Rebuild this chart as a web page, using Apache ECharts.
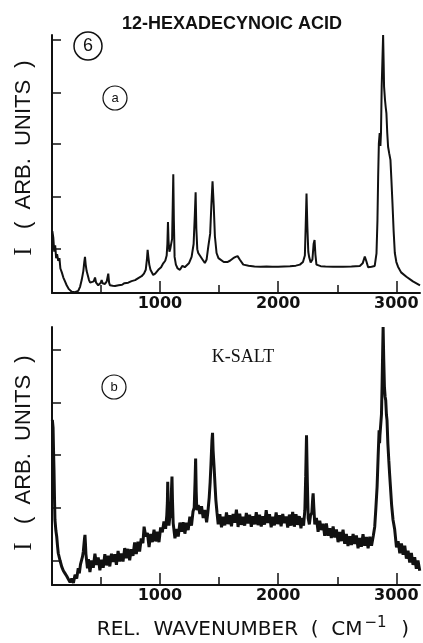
<!DOCTYPE html>
<html>
<head>
<meta charset="utf-8">
<script src="https://cdn.jsdelivr.net/npm/echarts@6/dist/echarts.min.js"></script>
<style>
  html, body { margin: 0; padding: 0; background: #fff; }
  #chart { width: 423px; height: 643px; }
</style>
</head>
<body>
<div id="chart"></div>
<script>
// wavenumber (cm-1), intensity (arb. units, 0-100 of panel height)
var spectrumA = [
  [90,24],[98,21.5],[106,16],[114,18.5],[122,13.5],[130,15],[140,12.5],[150,13.5],[158,9.5],[170,8],
  [183,6],[197,4.5],[211,3],[230,1.5],[254,0.5],[280,0.3],[309,0.8],[325,2.5],[338,5],[352,8.5],
  [360,12],[366,14],[372,11],[380,8.5],[389,7],[400,5],[410,4],[423,3.8],[440,4.5],[451,6],
  [460,4],[470,3.5],[478,3],[490,3.5],[500,4],[507,5],[515,3.8],[525,4],[535,3.5],[550,4.5],
  [563,7.5],[570,4],[577,3],[600,2.8],[620,2.7],[650,3],[680,3.2],[700,3.8],[732,4],[760,4.6],
  [790,5],[817,5.8],[845,6.5],[865,7.5],[880,9],[890,13],[896,16.7],[902,14],[910,11],[920,9],
  [943,7],[960,7.5],[986,9],[1010,10],[1028,11.5],[1045,12.5],[1057,14.5],[1063,19],[1068,27.5],[1073,20],
  [1080,16],[1087,17],[1095,17],[1103,21],[1108,33],[1113,46],[1118,28],[1124,14],[1135,11],[1150,9.5],
  [1169,9],[1190,10.5],[1210,10],[1225,10.3],[1245,11.5],[1268,14],[1285,19],[1295,30],[1302,39],[1308,25],
  [1316,17],[1324,15.5],[1340,15],[1360,13],[1380,11.6],[1395,13],[1409,18],[1425,23],[1435,34],[1445,43.3],
  [1455,34],[1465,22],[1479,15.5],[1495,13.5],[1507,12.9],[1540,12],[1570,12],[1592,12.5],[1620,13.5],[1640,14],
  [1657,14.3],[1675,13],[1705,11],[1750,10.6],[1800,10.3],[1850,10.2],[1902,10.3],[1950,10.2],[2000,10.2],[2050,10.3],
  [2100,10.4],[2150,10.6],[2184,11],[2210,12],[2226,14.5],[2233,26],[2240,38.6],[2247,26],[2255,16],[2262,14],
  [2275,11.8],[2290,13],[2300,19],[2308,20.5],[2315,15],[2324,11],[2360,10.4],[2400,10.3],[2465,10.2],[2550,10.2],
  [2620,10.3],[2691,10.5],[2715,11.5],[2733,14.1],[2745,12.5],[2761,10],[2790,10.2],[2817,10.5],[2832,15.4],[2840,28],
  [2846,45],[2852,58],[2859,62],[2865,57],[2870,62],[2876,80],[2882,90],[2888,100],[2893,88],[2896,80],
  [2904,74.8],[2910,72],[2916,69.6],[2923,62],[2930,56.7],[2940,54],[2950,51.6],[2958,44],[2967,34.9],[2977,24],
  [2987,15.5],[3000,12],[3014,10.2],[3040,8],[3085,6.3],[3140,4.5],[3200,3]
];

var spectrumB = [
  [90,64],[96,61],[100,52],[104,44.5],[108,34],[112,25.2],[120,21],[127,18.7],[134,15],[140,12.3],
  [155,9.5],[169,7.1],[183,5.5],[197,4.5],[211,3.5],[225,3.8],[240,1],[254,2.5],[268,0.8],[282,4],
  [296,2.5],[309,6.5],[318,4.5],[328,8],[338,7.5],[345,11],[352,13],[358,16],[362,18],[366,19.4],
  [370,16],[374,12],[380,9.5],[387,6.5],[395,10],[408,5],[422,9.5],[436,6.7],[450,12.1],[464,7.8],
  [478,10.7],[492,5.7],[506,9.8],[520,6.7],[534,11.9],[548,7.6],[562,11.3],[576,7.2],[590,12.1],[604,8.9],
  [618,11.9],[632,7.8],[646,13.2],[660,9.1],[674,12.2],[688,9.1],[702,14.3],[716,10.4],[730,14],[744,9.6],
  [758,13.9],[772,11.3],[786,16.5],[800,12],[814,16.8],[828,13],[842,18],[856,16.2],[866,22.6],[873,23],
  [880,18.8],[894,20.2],[908,14.7],[922,19.8],[936,16.6],[950,21.4],[964,16.9],[978,20.6],[992,16.6],[1006,22.3],
  [1020,20.4],[1034,24.6],[1048,21.8],[1058,27],[1063,32],[1066,40],[1070,30],[1076,23],[1083,26],[1092,27],
  [1097,36],[1102,42],[1106,33],[1112,24],[1118,23.4],[1127,18.1],[1141,21.7],[1155,18.8],[1169,24.2],[1183,20.6],
  [1197,24.3],[1211,19.9],[1225,24.1],[1239,21.3],[1253,26.5],[1267,23],[1280,28.5],[1290,30],[1297,40],[1302,49],
  [1307,36],[1312,29],[1324,31],[1338,27.5],[1352,30.5],[1366,26],[1380,29.1],[1395,24.3],[1405,28],[1417,34],
  [1425,40],[1431,46],[1440,56],[1445,59],[1450,52],[1459,45],[1467,38],[1473,33],[1483,28],[1493,23.5],
  [1507,27.4],[1521,22.4],[1535,26.5],[1549,23.1],[1563,28.1],[1577,23.6],[1591,27],[1605,22.8],[1619,27.5],[1633,24.1],
  [1647,29.2],[1661,22.5],[1675,27.6],[1689,23.3],[1703,26.4],[1717,23],[1731,27.9],[1745,23.8],[1759,27.2],[1773,22.6],
  [1787,26.7],[1801,23.5],[1815,28.2],[1829,23.2],[1843,27.2],[1857,22.7],[1871,26.7],[1885,23.4],[1899,29],[1913,24],
  [1927,27.4],[1941,22.4],[1955,26.5],[1969,23.1],[1983,28.1],[1997,23.6],[2011,27],[2025,22.8],[2039,27.5],[2053,24],
  [2067,26.6],[2081,22.3],[2095,27.3],[2109,23],[2123,28.3],[2137,22.6],[2151,27.4],[2165,23.3],[2179,26.7],[2193,22],
  [2205,26],[2215,23],[2226,29],[2233,42],[2240,58],[2247,40],[2254,26],[2264,23.5],[2274,27],[2285,28],
  [2293,34],[2296,35.5],[2302,30],[2310,23.5],[2324,26],[2338,20.6],[2352,24.9],[2366,21.3],[2380,23.8],[2394,19.1],
  [2408,23.9],[2422,19.1],[2436,22],[2450,18.2],[2465,22.7],[2479,18.4],[2493,21.5],[2507,16.6],[2521,20.5],[2535,17],
  [2549,21.4],[2563,16],[2577,19.8],[2591,15.1],[2606,18.9],[2620,15.5],[2634,19.8],[2648,15.9],[2662,19.2],[2676,14.2],
  [2690,18.2],[2704,14.8],[2718,19.7],[2732,15.2],[2747,18.6],[2761,14.2],[2775,18.7],[2790,15.2],[2805,19.1],[2817,22.6],
  [2827,30],[2837,38],[2846,50],[2854,60],[2858,55],[2861,58],[2868,57.5],[2874,66],[2879,76.8],[2884,90],
  [2888,100],[2893,88],[2899,76.8],[2905,73],[2910,71.6],[2916,66],[2921,63.9],[2928,55],[2936,48.4],[2943,43],
  [2950,38],[2960,31],[2972,25.2],[2986,21.5],[3001,14.6],[3015,17],[3029,12.3],[3043,16.1],[3057,11.7],[3071,15.2],
  [3085,10.2],[3099,13.3],[3113,8.7],[3127,12.4],[3141,7.8],[3155,10.8],[3169,6.3],[3183,9.5],[3198,5.5]
];

var xLabelValues = [1000, 2000, 3000];
var xMinorTicks = [500, 1500, 2500];
var yTicksA = [17.1, 37.5, 57.9, 77.8, 98.2];
var yTicksB = [9.4, 30.1, 50.3, 70.6, 91];

var chart = echarts.init(document.getElementById('chart'), null, { renderer: 'canvas' });

var tickFont = { fontFamily: 'DejaVu Sans', fontWeight: 'bold', fontSize: 16, color: '#111' };

function mainX(gridIndex) {
  return {
    type: 'value', gridIndex: gridIndex, position: 'bottom',
    min: 87, max: 3200,
    axisLine: { show: true, onZero: false, lineStyle: { color: '#111', width: 2 } },
    axisTick: { show: true, inside: true, length: 12, customValues: xLabelValues, lineStyle: { color: '#111', width: 1.5 } },
    axisLabel: Object.assign({ show: true, margin: 3, customValues: xLabelValues, formatter: function (v) { return String(v); } }, tickFont),
    splitLine: { show: false }
  };
}
function minorX(gridIndex) {
  return {
    type: 'value', gridIndex: gridIndex, position: 'bottom',
    min: 87, max: 3200,
    axisLine: { show: false },
    axisTick: { show: true, inside: true, length: 8, customValues: xMinorTicks, lineStyle: { color: '#111', width: 1.5 } },
    axisLabel: { show: false },
    splitLine: { show: false }
  };
}
function yAx(gridIndex, ticks) {
  return {
    type: 'value', gridIndex: gridIndex, min: 0, max: 100,
    axisLine: { show: true, onZero: false, lineStyle: { color: '#111', width: 2 } },
    axisTick: { show: true, inside: true, length: 9, customValues: ticks, lineStyle: { color: '#111', width: 1.5 } },
    axisLabel: { show: false },
    splitLine: { show: false }
  };
}

function yName(cy) {
  return {
    type: 'text', x: 24, y: cy, rotation: Math.PI / 2,
    style: {
      text: '{i|I}{t|   (  ARB.  UNITS  )}',
      fill: '#111', align: 'center', verticalAlign: 'middle',
      rich: {
        i: { fontFamily: 'Liberation Serif', fontSize: 25, fill: '#111' },
        t: { fontFamily: 'Liberation Sans', fontSize: 22, fill: '#111' }
      }
    }
  };
}

var option = {
  animation: false,
  backgroundColor: '#fff',
  grid: [
    { left: 52, right: 3, top: 35, height: 258 },
    { left: 52, right: 3, top: 327, height: 258 }
  ],
  xAxis: [mainX(0), minorX(0), mainX(1), minorX(1)],
  yAxis: [yAx(0, yTicksA), yAx(1, yTicksB)],
  series: [
    {
      name: '12-HEXADECYNOIC ACID', type: 'line', xAxisIndex: 0, yAxisIndex: 0,
      data: spectrumA, showSymbol: false, smooth: false,
      lineStyle: { color: '#111', width: 2 }
    },
    {
      name: 'K-SALT', type: 'line', xAxisIndex: 2, yAxisIndex: 1,
      data: spectrumB, showSymbol: false, smooth: false,
      lineStyle: { color: '#111', width: 3 }
    }
  ],
  graphic: [
    { type: 'text', x: 232, y: 24, style: { text: '12-HEXADECYNOIC ACID', font: 'bold 18px "Liberation Sans"', fill: '#111', align: 'center', verticalAlign: 'middle' } },
    { type: 'circle', shape: { cx: 88, cy: 46, r: 14 }, style: { fill: 'none', stroke: '#111', lineWidth: 1.5 } },
    { type: 'text', x: 88, y: 46, style: { text: '6', font: '18px "Liberation Sans"', fill: '#111', align: 'center', verticalAlign: 'middle' } },
    { type: 'circle', shape: { cx: 115, cy: 98, r: 12 }, style: { fill: 'none', stroke: '#111', lineWidth: 1.2 } },
    { type: 'text', x: 115, y: 98, style: { text: 'a', font: '13px "Liberation Sans"', fill: '#111', align: 'center', verticalAlign: 'middle' } },
    { type: 'circle', shape: { cx: 114, cy: 387, r: 12 }, style: { fill: 'none', stroke: '#111', lineWidth: 1.2 } },
    { type: 'text', x: 114, y: 387, style: { text: 'b', font: '13px "Liberation Sans"', fill: '#111', align: 'center', verticalAlign: 'middle' } },
    { type: 'text', x: 243, y: 357, style: { text: 'K-SALT', font: '18px "Liberation Serif"', fill: '#111', align: 'center', verticalAlign: 'middle' } },
    yName(158),
    yName(453),
    {
      type: 'text', x: 253, y: 630,
      style: {
        text: '{a|REL.  WAVENUMBER  (  CM}{s|−1}{a|  )}',
        fill: '#111', align: 'center', verticalAlign: 'middle',
        rich: {
          a: { fontFamily: 'DejaVu Sans', fontSize: 20, fill: '#111' },
          s: { fontFamily: 'DejaVu Sans', fontSize: 15, fill: '#111', verticalAlign: 'bottom', padding: [0, 2, 14, 2] }
        }
      }
    }
  ]
};

chart.setOption(option);
</script>
</body>
</html>
